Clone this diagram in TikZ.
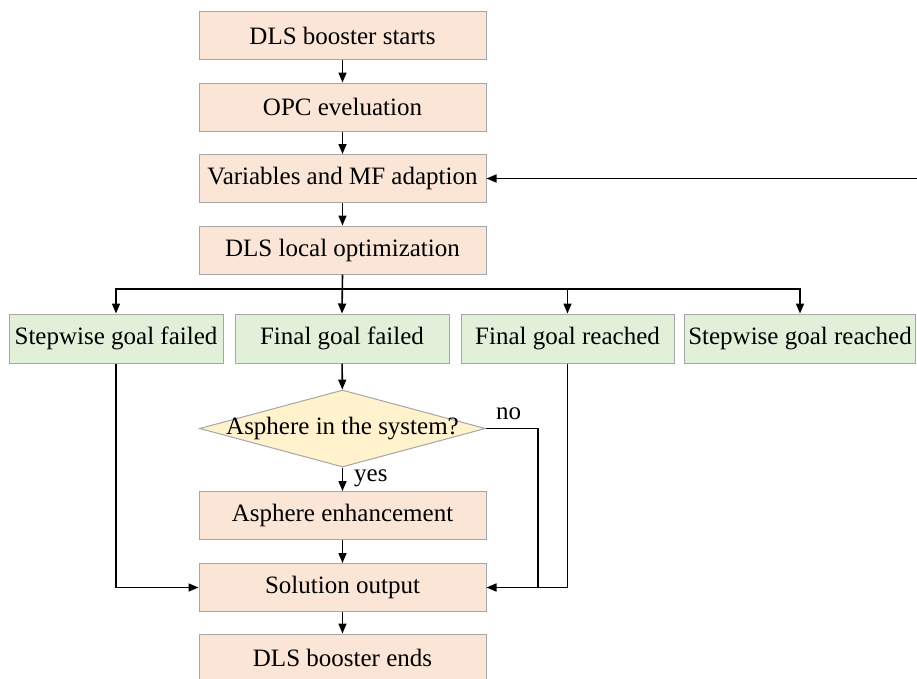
\documentclass[tikz,border=0pt]{standalone}
\usepackage{fontspec}
\setmainfont{Liberation Serif}
\usetikzlibrary{arrows.meta,shapes.geometric}

\definecolor{peach}{HTML}{FBE5D6}
\definecolor{mint}{HTML}{E2F0D9}
\definecolor{cream}{HTML}{FFF2CC}
\definecolor{edge}{HTML}{A6A6A6}

\tikzset{
  every node/.style={font=\fontsize{25}{29}\selectfont},
  procbox/.style={draw=edge, line width=1pt, fill=peach, minimum width=287pt,
    minimum height=48pt, inner sep=0pt},
  resultbox/.style={draw=edge, line width=1pt, fill=mint, minimum height=49pt,
    inner sep=0pt},
  decision/.style={diamond, draw=edge, line width=1pt, fill=cream,
    minimum width=286pt, minimum height=77pt, inner sep=0pt},
  flow/.style={draw=black, line width=1.6pt,
    -{Triangle[length=10pt,width=8pt]}},
  plain/.style={draw=black, line width=1.6pt},
}

\begin{document}
\begin{tikzpicture}[x=1pt,y=-1pt]
\clip (0,0) rectangle (917,678);
\fill[white] (0,0) rectangle (917,678);

% main column
\node[procbox] (start) at (342.5,35.5)  {DLS booster starts};
\node[procbox] (opc)   at (342.5,107)   {OPC eveluation};
\node[procbox] (adapt) at (342.5,178.5) {Variables and MF adaption};
\node[procbox] (local) at (342.5,250)   {DLS local optimization};

% outcomes of the local optimization
\node[resultbox, minimum width=214pt] (swfail) at (116,338.5)   {Stepwise goal failed};
\node[resultbox, minimum width=214pt] (fnfail) at (342,338.5)   {Final goal failed};
\node[resultbox, minimum width=213pt] (fnok)   at (567.5,338.5) {Final goal reached};
\node[resultbox, minimum width=231pt] (swok)   at (800,338.5)   {Stepwise goal reached};

% asphere branch
\node[decision] (asph) at (342.5,428.5) {};
\node (asphtxt) at (asph.center) {Asphere in the system?};
\node[procbox] (enh)  at (342.5,515.5) {Asphere enhancement};
\node[procbox] (sol)  at (342.5,587.5) {Solution output};
\node[procbox] (done) at (342.5,658)   {DLS booster ends};

% helper points
\coordinate (split)  at (342.5,289);
\coordinate (loopin) at (917,178.5);
\coordinate (nojoin) at (538,587.5);

% straight flow
\draw[flow] (start) -- (opc);
\draw[flow] (opc) -- (adapt);
\draw[flow] (adapt) -- (local);
\draw[flow] (loopin) -- (adapt);

% branching to the four outcomes
\draw[flow] (local.south) -- (fnfail.north);
\draw[flow] (split) -| (swfail.north);
\draw[flow] (split) -| (fnok.north);
\draw[flow] (split) -| (swok.north);

% final goal failed path
\draw[flow] (fnfail) -- (asph);
\draw[flow] (asph.south) -- (enh.north);
\node[anchor=west, inner sep=0pt] (yes) at (354,478) {yes};
\draw[flow] (enh) -- (sol);
\draw[flow] (sol) -- (done);
\draw[plain] (asph.east) -| (nojoin);
\node[anchor=west, inner sep=0pt] (no) at (496,414) {no};

% outcomes feeding the solution output
\draw[flow] (swfail.south) |- (sol.west);
\draw[flow] (fnok.south) |- (sol.east);
\end{tikzpicture}
\end{document}
